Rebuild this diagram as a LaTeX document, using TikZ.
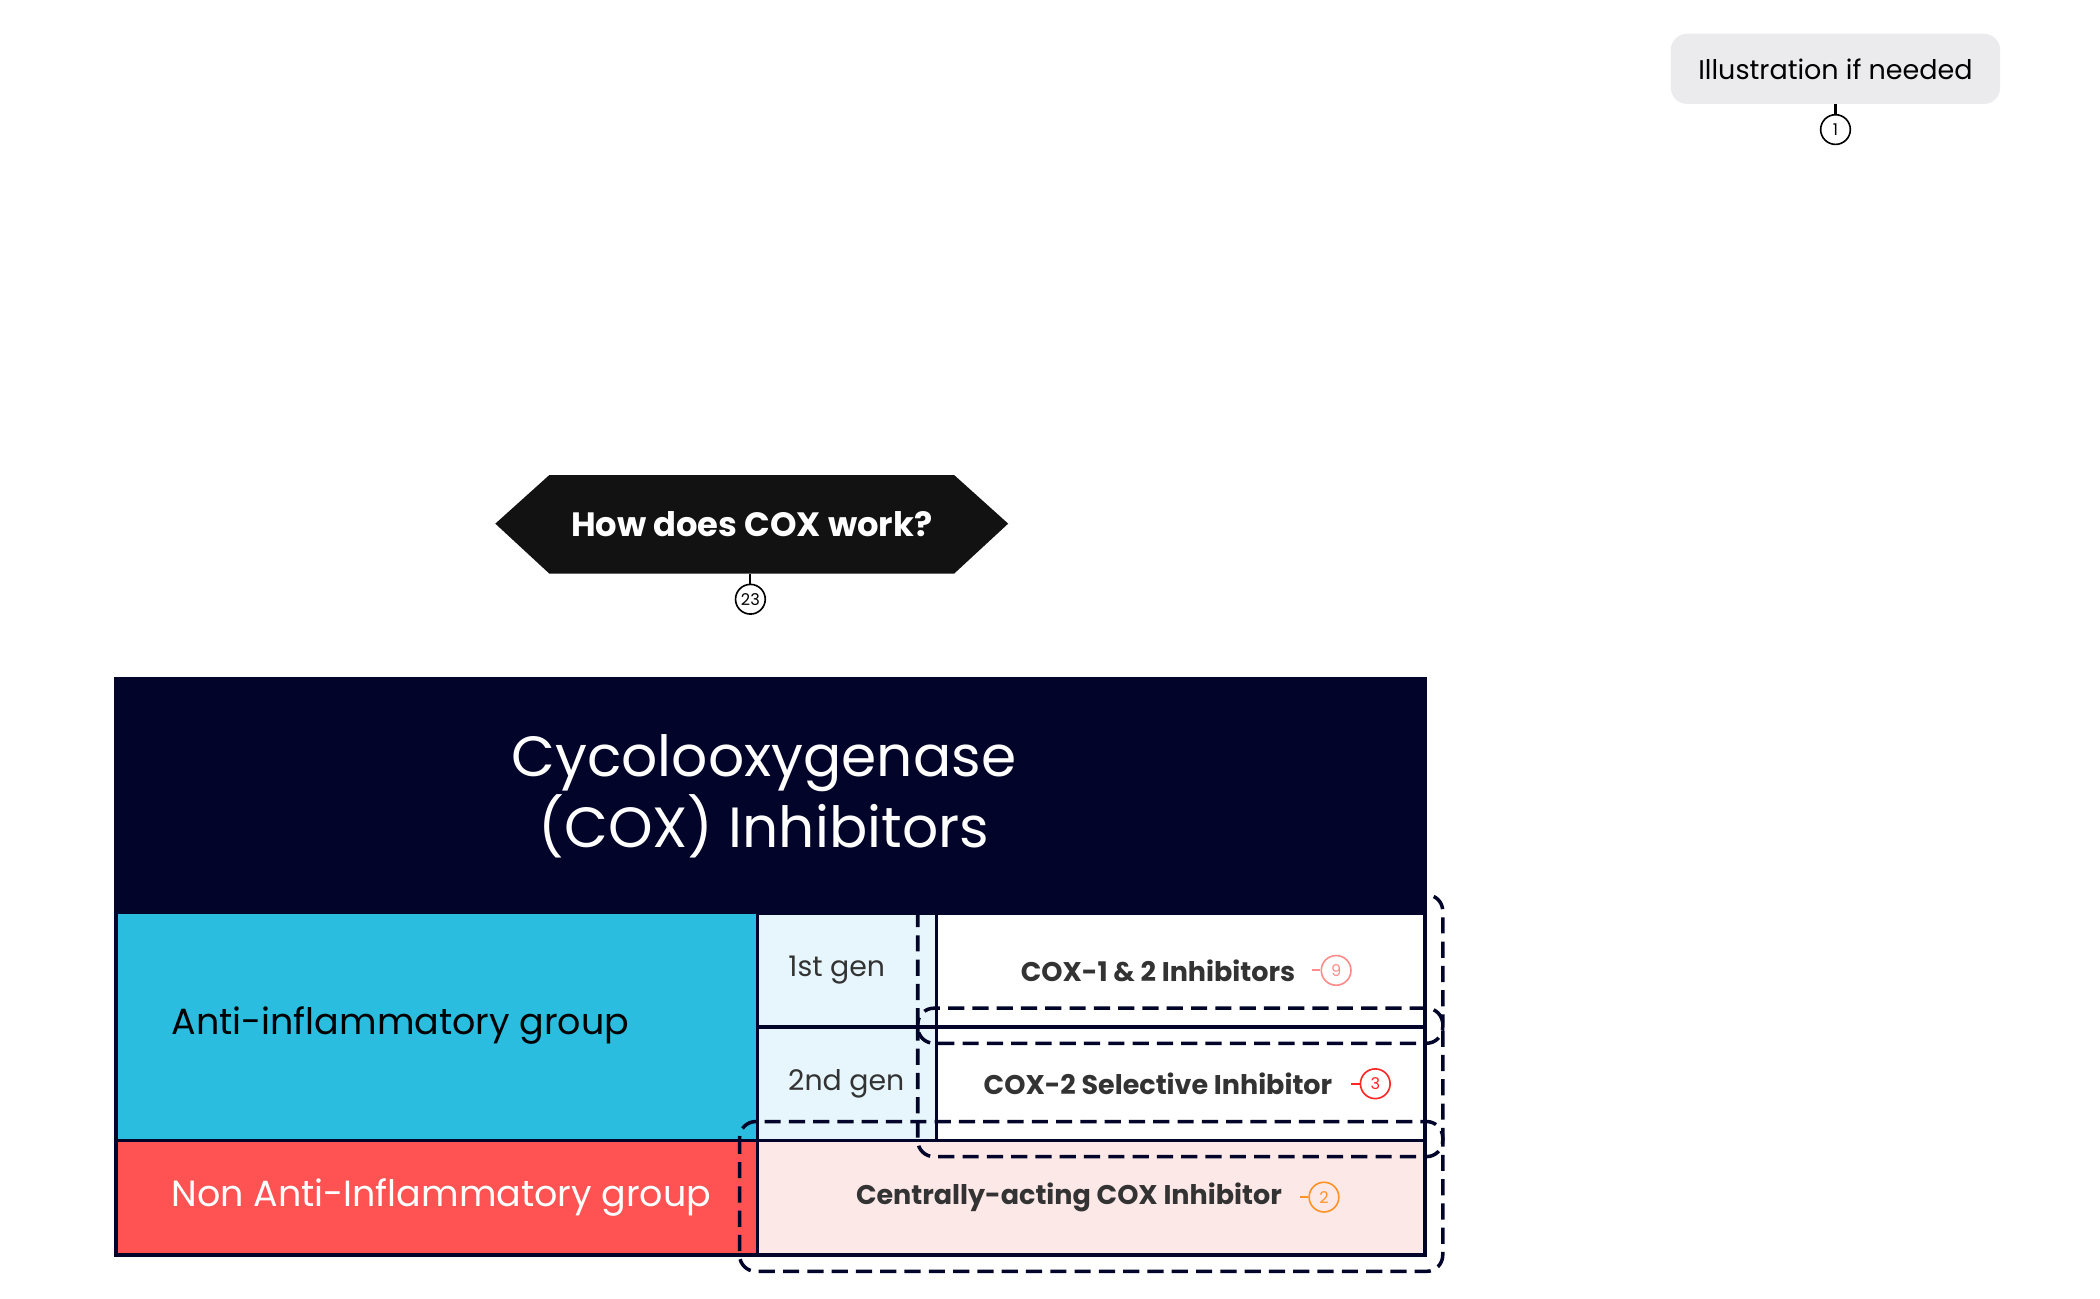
\documentclass[tikz,border=0pt]{standalone}
\usepackage{fontspec}
\setmainfont{Poppins}
\usetikzlibrary{shapes.geometric}
\definecolor{navy}{HTML}{020529}
\definecolor{cyanb}{HTML}{2BBDE0}
\definecolor{redb}{HTML}{FF5252}
\definecolor{lblue}{HTML}{E6F6FC}
\definecolor{pinkb}{HTML}{FDE8E8}
\definecolor{grayb}{HTML}{EBEBEE}
\begin{document}
\begin{tikzpicture}[x=0.5pt,y=-0.5pt,
  cell/.style={draw=navy,line width=1.2pt},
  dbox/.style={draw=navy,line width=1.3pt,dash pattern=on 6pt off 3pt,rounded corners=6pt},
  num/.style={circle,draw,line width=0.6pt,inner sep=0pt,minimum size=11pt,font=\fontsize{6}{7}\selectfont},
  lbl/.style={font=\fontsize{10}{12}\selectfont\bfseries,text=black!80}]
\useasboundingbox (0,0) rectangle (1556,962);
% illustration
\node[fill=grayb,rounded corners=6pt,minimum width=122pt,minimum height=26pt,font=\fontsize{10}{12}\selectfont] (ill) at (1360,51) {Illustration if needed};
\node[num] (n1) at (1360,96) {1};
\draw[line width=0.8pt] (ill.south) -- (n1);
% hexagon
\fill[black!93] (367,388) -- (407,352) -- (707,352) -- (747,388) -- (707,425) -- (407,425) -- cycle;
\node[text=white,font=\fontsize{12.5}{14}\selectfont\bfseries] (hex) at (557,388) {How does COX work?};
\node[num] (n23) at (556,444) {23};
\draw[line width=0.8pt] (556,425) -- (n23);
% main table
\fill[navy] (86,503) rectangle (1056,677);
\node[text=white,align=center,font=\fontsize{21}{26}\selectfont] (hdr) at (566,590) {Cycolooxygenase\\ (COX) Inhibitors};
\fill[cyanb] (86,677) rectangle (561,845);
\node[anchor=west,font=\fontsize{13.5}{16}\selectfont] (anti) at (120,760) {Anti-inflammatory group};
\fill[redb] (86,845) rectangle (561,930);
\node[anchor=west,text=white,font=\fontsize{13.5}{16}\selectfont] (non) at (120,887) {Non Anti-Inflammatory group};
\filldraw[cell,fill=lblue] (561,677) rectangle (694,761);
\filldraw[cell,fill=lblue] (561,761) rectangle (694,845);
\node[font=\fontsize{10.5}{12}\selectfont,text=black!80] (g1) at (620,719) {1st gen};
\node[font=\fontsize{10.5}{12}\selectfont,text=black!80] (g2) at (627,803) {2nd gen};
\filldraw[cell,fill=white] (694,677) rectangle (1056,761);
\filldraw[cell,fill=white] (694,761) rectangle (1056,845);
\filldraw[cell,fill=pinkb] (561,845) rectangle (1056,930);
\draw[cell] (86,845) -- (561,845);
\draw[navy,line width=1.5pt] (86,503) rectangle (1056,930);
\node[lbl] (c12) at (858,719) {COX-1 \& 2 Inhibitors};
\node[lbl] (c2) at (858,803) {COX-2 Selective Inhibitor};
\node[lbl] (cc) at (792,887) {Centrally-acting COX Inhibitor};
\node[num,draw=red!45,text=red!45] (n9) at (990,719) {9};
\draw[red!45,line width=0.8pt] (972,719) -- (n9);
\node[num,draw=red!85,text=red!85] (n3) at (1019,803) {3};
\draw[red!85,line width=0.8pt] (1001,803) -- (n3);
\node[num,draw=orange!85,text=orange!85] (n2) at (981,887) {2};
\draw[orange!85,line width=0.8pt] (963,887) -- (n2);
% dashed groups
\draw[dbox] (680,663) rectangle (1069,773);
\draw[dbox] (680,747) rectangle (1069,857);
\draw[dbox] (548,831) rectangle (1069,942);
\end{tikzpicture}
\end{document}
